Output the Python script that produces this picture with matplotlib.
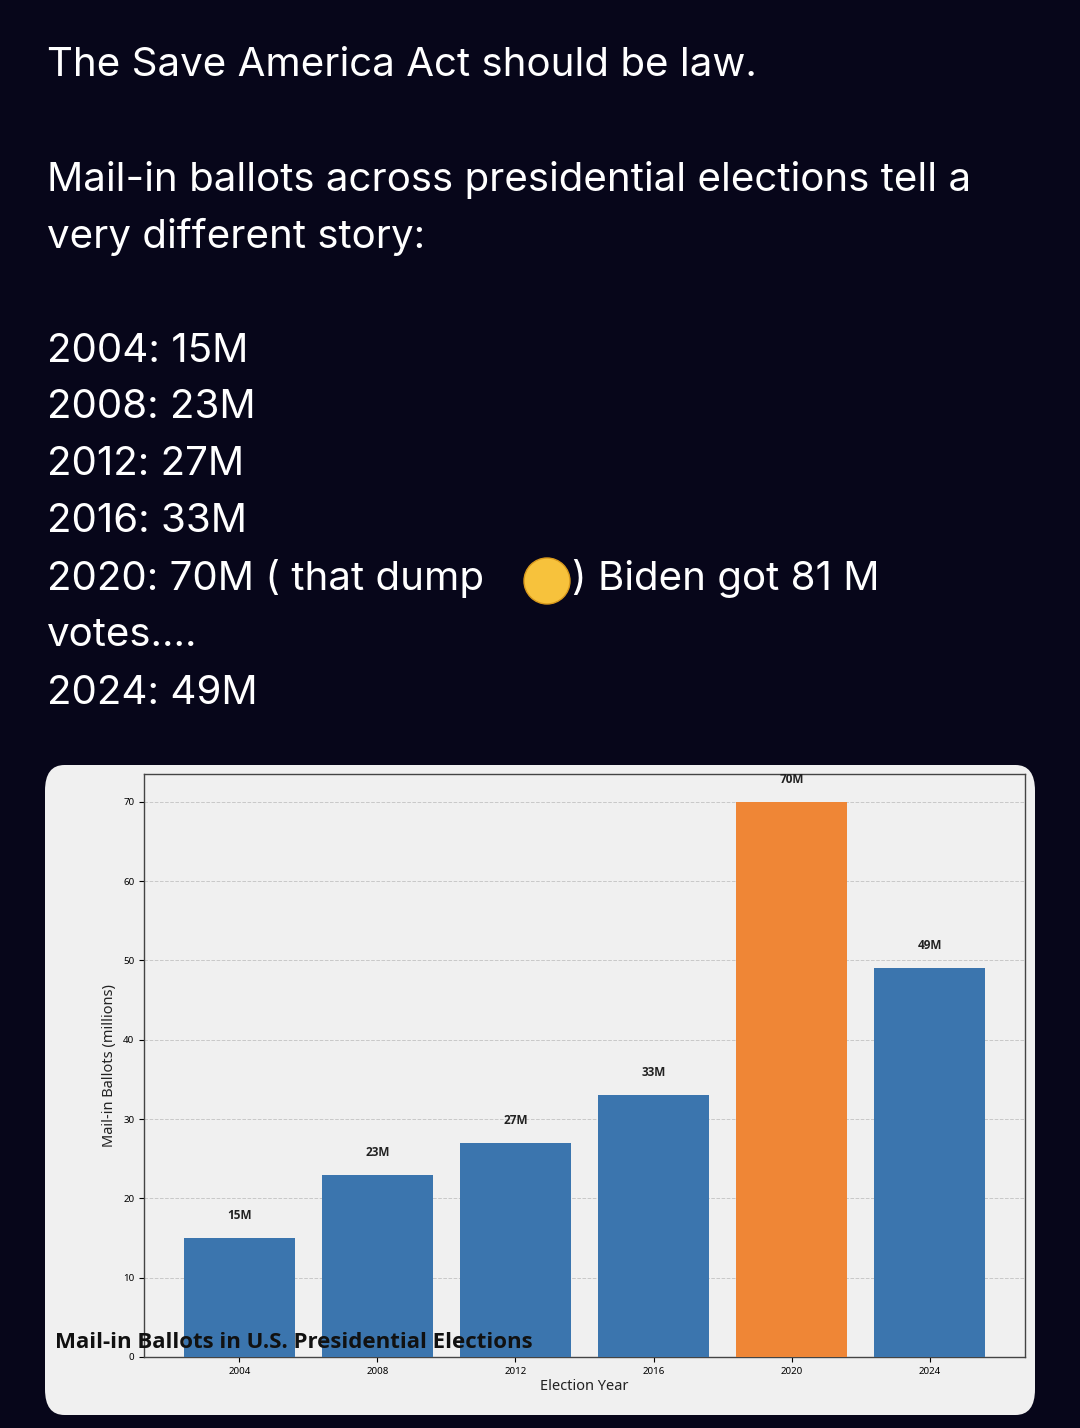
import matplotlib
matplotlib.use("Agg")
import matplotlib.pyplot as plt
from matplotlib.patches import FancyBboxPatch, Ellipse

years = ["2004", "2008", "2012", "2016", "2020", "2024"]
ballots = [15, 23, 27, 33, 70, 49]
labels = ["15M", "23M", "27M", "33M", "70M", "49M"]
colors = ["#3b75ae"] * 4 + ["#ef8636"] + ["#3b75ae"]

post_lines = [
    "The Save America Act should be law.",
    "",
    "Mail-in ballots across presidential elections tell a",
    "very different story:",
    "",
    "2004: 15M",
    "2008: 23M",
    "2012: 27M",
    "2016: 33M",
    None,
    "votes....",
    "2024: 49M",
]

W, H = 1080, 1428
fig = plt.figure(figsize=(W/100, H/100), dpi=100)
fig.patch.set_facecolor("#07061a")

def fy(y):
    return 1 - y / H

FONT = ["Inter", "DejaVu Sans"]
y0 = 66
for i, line in enumerate(post_lines):
    y = y0 + i * 57
    if line is None:
        fig.text(47/W, fy(y), "2020: 70M ( that dump", color="white", fontsize=29,
                 family=FONT, va="center")
        fig.text(572/W, fy(y), ") Biden got 81 M", color="white", fontsize=29,
                 family=FONT, va="center")
        fig.patches.append(Ellipse((547/W, fy(y+2)), 46/W, 46/H, transform=fig.transFigure,
                                   facecolor="#f7c23c", edgecolor="#d99a1d", lw=1))
    elif line:
        fig.text(47/W, fy(y), line, color="white", fontsize=29, family=FONT, va="center")

card = FancyBboxPatch((45/W, fy(1415)), 990/W, 650/H, transform=fig.transFigure,
                      boxstyle="round,pad=0,rounding_size=0.018", facecolor="#f0f0f0",
                      edgecolor="none", zorder=-5)
fig.patches.append(card)

ax = fig.add_axes([144/W, (H-1357)/H, 881/W, 583/H])
ax.set_zorder(1)
ax.set_facecolor("#f0f0f0")
x = list(range(len(years)))
ax.bar(x, ballots, width=0.8, color=colors, zorder=3)
for xi, v, lab in zip(x, ballots, labels):
    ax.text(xi, v + 2.0, lab, ha="center", va="bottom", fontsize=8.5,
            fontweight="bold", family=["Open Sans", "DejaVu Sans"], color="#222222")
ax.set_xlim(-0.69, 5.69)
ax.set_ylim(0, 73.5)
ax.set_xticks(x)
ax.set_xticklabels(years, fontsize=7, family="Noto Sans")
ax.set_yticks([0, 10, 20, 30, 40, 50, 60, 70])
ax.tick_params(axis="y", labelsize=7)
for t in ax.get_yticklabels():
    t.set_family("Noto Sans")
ax.grid(axis="y", linestyle="--", color="#c8c8c8", lw=0.7, zorder=0)
ax.set_axisbelow(True)
ax.set_ylabel("Mail-in Ballots (millions)", fontsize=10.5, family="Noto Sans", color="#222222")
ax.set_xlabel("Election Year", fontsize=10.5, family="Noto Sans", color="#222222", labelpad=2)
for s in ax.spines.values():
    s.set_color("#444444")
    s.set_linewidth(1)

ax.text(55/W, fy(1342), "Mail-in Ballots in U.S. Presidential Elections", fontsize=16,
        fontweight="bold", family=["Open Sans", "DejaVu Sans"], color="#111111",
        va="center", transform=fig.transFigure, zorder=10, clip_on=False)

fig.savefig("out.png", dpi=100, facecolor=fig.get_facecolor())
